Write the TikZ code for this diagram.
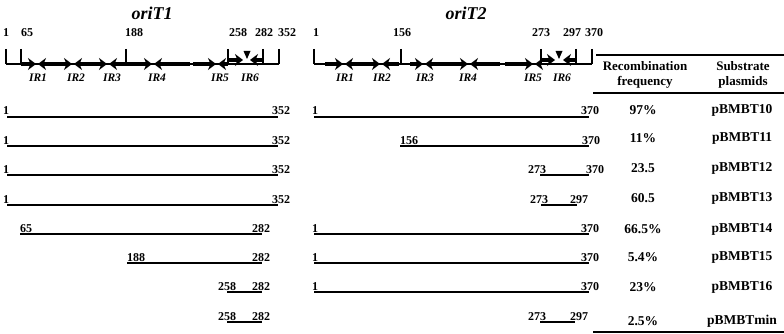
\documentclass[tikz,border=0pt]{standalone}
\usepackage{fontspec}
\setmainfont{Liberation Serif}
\usetikzlibrary{arrows.meta,positioning}

\begin{document}
\begin{tikzpicture}[x=1pt,y=-1pt,
  num/.style={font=\bfseries\fontsize{12}{12}\selectfont, inner sep=0pt},
  irlab/.style={font=\bfseries\itshape\fontsize{11.5}{12}\selectfont, inner sep=0pt},
  ttl/.style={font=\bfseries\itshape\fontsize{18}{18}\selectfont, inner sep=0pt},
  tab/.style={font=\bfseries\fontsize{13.5}{13.5}\selectfont, inner sep=0pt},
  hd/.style={font=\bfseries\fontsize{13}{15}\selectfont, inner sep=0pt, align=center},
  base/.style={line width=1.2pt},
  ir/.style={line width=3.6pt, -{Stealth[length=8pt,width=12pt,inset=2.5pt]}},
  frag/.style={line width=2.2pt},
  rule/.style={line width=1.6pt}]
\useasboundingbox (0,0) rectangle (784,334);

% titles
\node[ttl] (t1) at (152,13) {oriT1};
\node[ttl] (t2) at (466,13) {oriT2};

% oriT1 map
\foreach \x in {6,21,126,228,263,279}
  \draw[base] (\x,49) -- (\x,64);
\draw[base] (6,64) -- (279,64);
\foreach \x/\t in {6/1,27/65,134/188,238/258,264/282,287/352}
  \node[num] (a\t) at (\x,33) {\t};
\foreach \a/\b in {21/36,55/38,55/72,90/74,90/107,126/109,126/152,168/154,193/216,228/218}
  \draw[ir] (\a,64) -- (\b,64);
\draw[line width=3.6pt] (168,64) -- (190,64);
\draw[ir] (229,60) -- (243,60);
\draw[ir] (262,60) -- (250,60);
\fill (243.5,51) -- (250.5,51) -- (247,59) -- cycle;
\foreach \x/\i in {38/1,76/2,112/3,157/4,220/5,250/6}
  \node[irlab] (ia\i) at (\x,78) {IR\i};

% oriT2 map
\foreach \x in {314,401,541,576,592}
  \draw[base] (\x,49) -- (\x,64);
\draw[base] (314,64) -- (592,64);
\foreach \x/\t in {316/1,402/156,541/273,572/297,594/370}
  \node[num] (b\t) at (\x,33) {\t};
\foreach \a/\b in {325/343,360/345,360/380,399/382,410/423,437/425,437/468,480/470,505/533,541/535}
  \draw[ir] (\a,64) -- (\b,64);
\draw[line width=3.6pt] (480,64) -- (500,64);
\draw[ir] (541,60) -- (555,60);
\draw[ir] (575,60) -- (563,60);
\fill (555.5,51) -- (562.5,51) -- (559,59) -- cycle;
\foreach \x/\i in {345/1,382/2,425/3,468/4,533/5,562/6}
  \node[irlab] (ib\i) at (\x,78) {IR\i};

% fragments, oriT1
\foreach \r/\y/\a/\b/\la/\lx/\lb/\rx in {1/117/7/278/1/3/352/272,
    2/146/7/278/1/3/352/272, 3/175/7/278/1/3/352/272,
    4/205/7/278/1/3/352/272, 5/234/20/262/65/20/282/252,
    6/263/127/262/188/127/282/252, 7/292/227/262/258/218/282/252,
    8/322/227/262/258/218/282/252}{
  \coordinate (fs\r) at (\a,\y);
  \coordinate (fe\r) at (\b,\y);
  \draw[frag] (fs\r) -- (fe\r);
  \node[num, anchor=base west] (fl\r) at (\lx,\y-2) {\la};
  \node[num, anchor=base west] (fr\r) at (\rx,\y-2) {\lb};
}

% fragments, oriT2
\foreach \r/\y/\a/\b/\la/\lx/\lb/\rx in {1/117/314/589/1/312/370/581,
    2/146/400/589/156/400/370/582, 3/175/540/589/273/528/370/586,
    4/205/541/577/273/530/297/570, 5/234/314/589/1/312/370/581,
    6/263/314/589/1/312/370/581, 7/292/314/589/1/312/370/581,
    8/322/540/575/273/528/297/570}{
  \coordinate (gs\r) at (\a,\y);
  \coordinate (ge\r) at (\b,\y);
  \draw[frag] (gs\r) -- (ge\r);
  \node[num, anchor=base west] (gl\r) at (\lx,\y-2) {\la};
  \node[num, anchor=base west] (gr\r) at (\rx,\y-2) {\lb};
}

% table
\draw[rule] (596,55) -- (784,55);
\draw[rule] (593,93) -- (784,93);
\draw[rule] (593,332) -- (784,332);
\node[hd] (h1) at (645,75) {Recombination\\frequency};
\node[hd] (h2) at (743,75) {Substrate\\plasmids};
\foreach \r/\y/\f/\p in {1/110/97\%/pBMBT10, 2/138/11\%/pBMBT11,
    3/168/23.5/pBMBT12, 4/198/60.5/pBMBT13, 5/229/66.5\%/pBMBT14,
    6/257/5.4\%/pBMBT15, 7/287/23\%/pBMBT16, 8/321/2.5\%/pBMBTmin}{
  \node[tab] (fq\r) at (643,\y) {\f};
  \node[tab] (pl\r) at (742,\y) {\p};
}
\end{tikzpicture}
\end{document}
